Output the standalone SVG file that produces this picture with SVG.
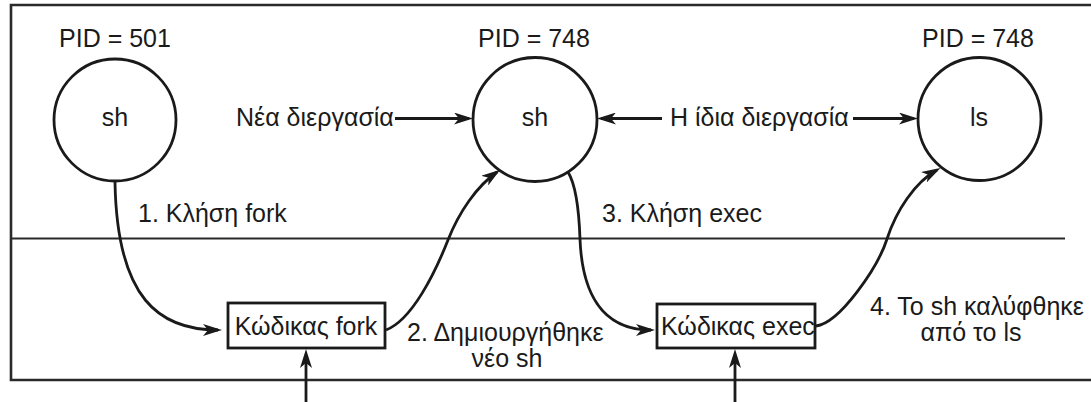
<svg xmlns="http://www.w3.org/2000/svg" width="1091" height="402" viewBox="0 0 1091 402">
<style>
text{font-family:"Liberation Sans",Arial,sans-serif;font-size:25px;fill:#1a1a1a}
.node{fill:#fff;stroke:#1a1a1a;stroke-width:2.8}
.frame{fill:none;stroke:#2a2a2a;stroke-width:2.6}
.conn{fill:none;stroke:#1a1a1a;stroke-width:2.8}
.head{fill:#1a1a1a}
.c{text-anchor:middle}
</style>
<defs>
<marker id="ah" markerUnits="userSpaceOnUse" viewBox="0 0 19 12" markerWidth="19" markerHeight="12" refX="15" refY="6" orient="auto">
<path d="M0,0 L19,6 L0,12 L5,6 Z" fill="#1a1a1a"/>
</marker>
</defs>
<g id="frame">
<path class="frame" d="M1091,5 H11 V380 H1091"/>
<line x1="11" y1="238.5" x2="1065" y2="238.5" stroke="#2a2a2a" stroke-width="2.2"/>
</g>
<g id="sh501">
<circle class="node" cx="115" cy="120" r="61"/>
<text class="c" x="115" y="47">PID = 501</text>
<text class="c" x="115" y="126">sh</text>
</g>
<g id="sh748">
<circle class="node" cx="535" cy="119.5" r="62"/>
<text class="c" x="534" y="47">PID = 748</text>
<text class="c" x="535" y="126">sh</text>
</g>
<g id="ls748">
<circle class="node" cx="979.5" cy="119" r="61.5"/>
<text class="c" x="978" y="47">PID = 748</text>
<text class="c" x="979" y="126">ls</text>
</g>
<g id="forkcode">
<rect class="node" x="228" y="303" width="157" height="45"/>
<text class="c" x="306" y="335">Κώδικας fork</text>
</g>
<g id="execcode">
<rect class="node" x="657" y="304" width="158" height="44"/>
<text x="661" y="335">Κώδικας exec</text>
</g>
<g id="connectors">
<path class="conn" marker-end="url(#ah)" d="M115,182 C117,300 160,330 218,330"/>
<path class="conn" marker-end="url(#ah)" d="M386,330 C412,320 435,273 448,240 C459,212 477,186 497,172"/>
<path class="conn" marker-end="url(#ah)" d="M568,172 C576,185 579,210 580,239 C582,290 600,330 651,330"/>
<path class="conn" marker-end="url(#ah)" d="M816,326 C840,323 878,267 887,239 C896,211 915,182 937,170"/>
<path class="conn" marker-end="url(#ah)" d="M395,118.5 H469"/>
<path class="conn" marker-end="url(#ah)" d="M662,118.5 H601"/>
<path class="conn" marker-end="url(#ah)" d="M853,118.5 H914"/>
<path class="conn" d="M306,402 V356"/>
<path class="head" d="M306,349 L312,368 L306,363 L300,368 Z"/>
<path class="conn" d="M735,402 V356"/>
<path class="head" d="M735,349 L741,368 L735,363 L729,368 Z"/>
</g>
<g id="labels">
<text x="236" y="126">Νέα διεργασία</text>
<text x="670" y="126">Η ίδια διεργασία</text>
<text x="138" y="222">1. Κλήση fork</text>
<text x="602" y="222">3. Κλήση exec</text>
<text x="407" y="341">2. Δημιουργήθηκε</text>
<text class="c" x="507" y="367">νέο sh</text>
<text x="870" y="315">4. Το sh καλύφθηκε</text>
<text class="c" x="971" y="341">από το ls</text>
</g>
</svg>
